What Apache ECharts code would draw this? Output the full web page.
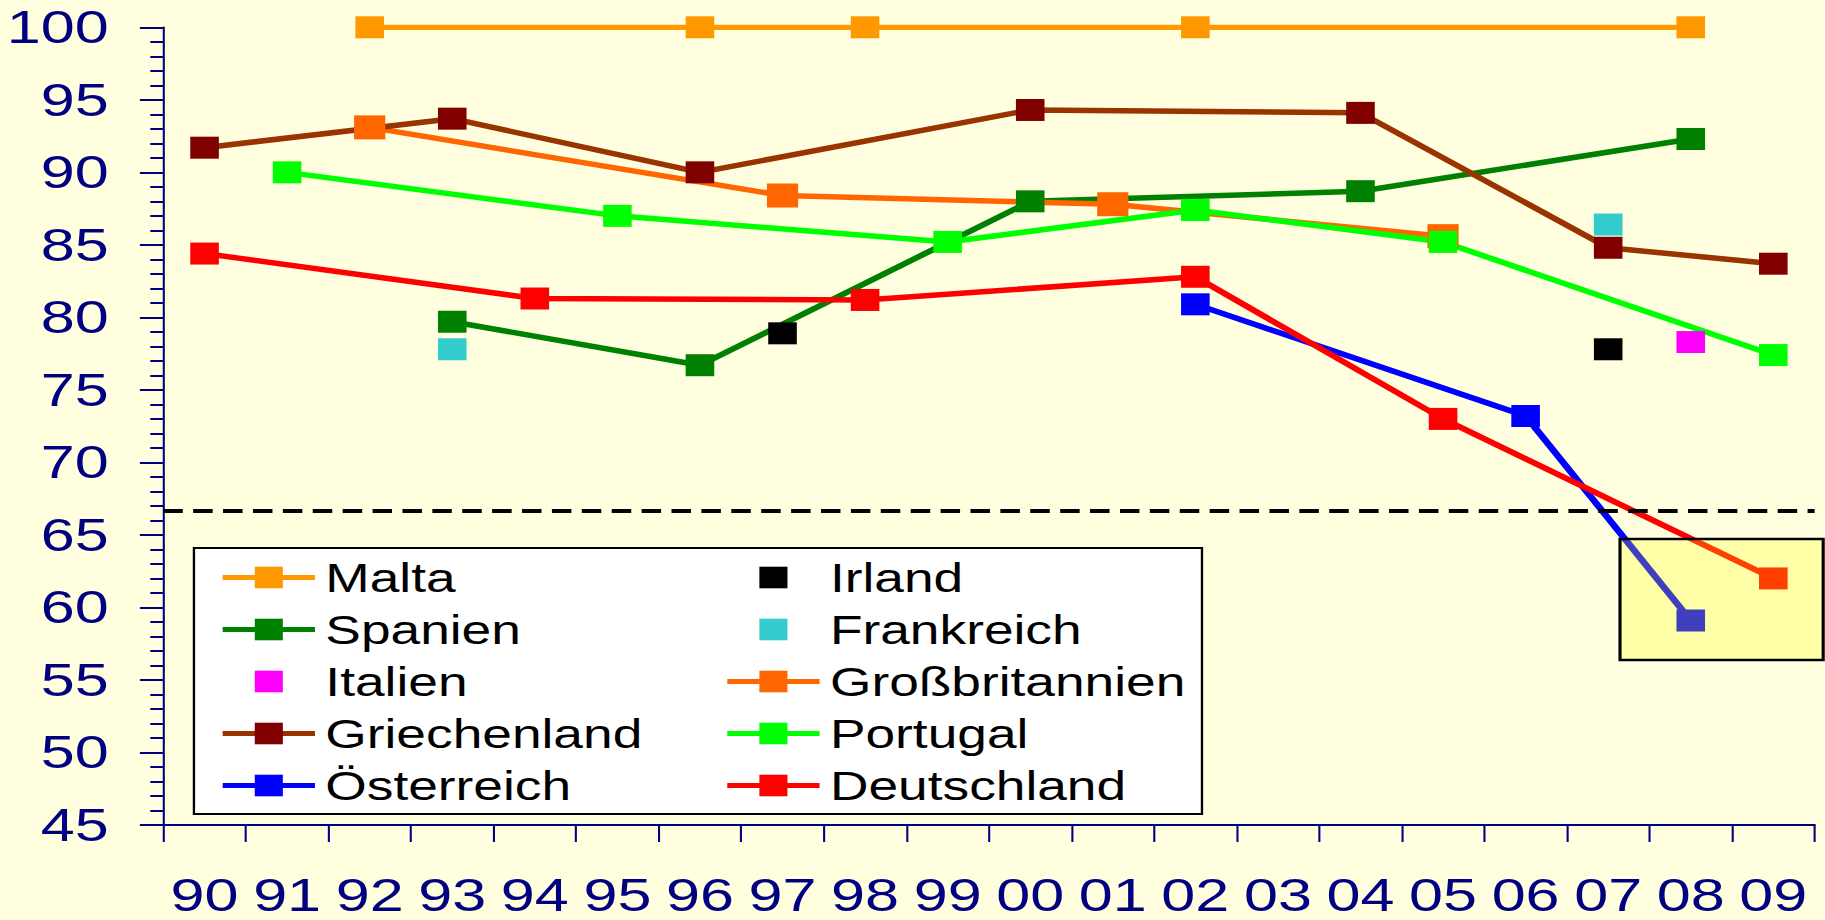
<!DOCTYPE html>
<html>
<head>
<meta charset="utf-8">
<script src="https://cdn.jsdelivr.net/npm/echarts@6/dist/echarts.min.js"></script>
<style>
html,body{margin:0;padding:0;background:#FFFFE0;overflow:hidden;width:1825px;height:920px}
#wrap{width:1404px;height:920px;transform:scaleX(1.29986);transform-origin:0 0;}
</style>
</head>
<body>
<div id="wrap"></div>
<script>
const n = null;
const years = ['90','91','92','93','94','95','96','97','98','99','00','01','02','03','04','05','06','07','08','09'];
const malta        = [n, n, 100, n, n, n, 100, n, 100, n, n, n, 100, n, n, n, n, n, 100, n];
const irland       = [n, n, n, n, n, n, n, 78.9, n, n, n, n, n, n, n, n, n, 77.8, n, n];
const spanien      = [n, n, n, 79.7, n, n, 76.7, n, n, n, 88.0, n, n, n, 88.7, n, n, n, 92.3, n];
const frankreich   = [n, n, n, 77.8, n, n, n, n, n, n, n, n, n, n, n, n, n, 86.4, n, n];
const italien      = [n, n, n, n, n, n, n, n, n, n, n, n, n, n, n, n, n, n, 78.3, n];
const grossbritannien = [n, n, 93.1, n, n, n, n, 88.4, n, n, n, 87.8, n, n, n, 85.6, n, n, n, n];
const griechenland = [91.7, n, n, 93.7, n, n, 90.0, n, n, n, 94.3, n, n, n, 94.1, n, n, 84.8, n, 83.7];
const portugal     = [n, 90.0, n, n, n, 87.0, n, n, n, 85.2, n, n, 87.4, n, n, 85.2, n, n, n, 77.4];
const oesterreich  = [n, n, n, n, n, n, n, n, n, n, n, n, 80.9, n, n, n, 73.2, n, 59.1, n];
const deutschland  = [84.4, n, n, n, 81.3, n, n, n, 81.2, n, n, n, 82.8, n, n, 73.0, n, n, n, 62.0];
const majority = 66.67;

const FONT = "'Liberation Sans', Arial, sans-serif";
const NAVY = '#000080';

function lineSeries(name, data, lineColor, markerColor, size) {
  return {
    name: name, type: 'line', data: data,
    symbol: 'rect', symbolSize: size || 22, showAllSymbol: true,
    connectNulls: true,
    lineStyle: { color: lineColor, width: 5.5 },
    itemStyle: { color: markerColor || lineColor },
    emphasis: { disabled: true },
    animation: false
  };
}
function pointSeries(name, data, color) {
  return {
    name: name, type: 'line', data: data,
    symbol: 'rect', symbolSize: 22, showAllSymbol: true,
    connectNulls: false,
    lineStyle: { color: color, width: 0, opacity: 0 },
    itemStyle: { color: color },
    emphasis: { disabled: true },
    animation: false
  };
}

const series = [
  lineSeries('Malta', malta, '#FF9900'),
  pointSeries('Irland', irland, '#000000'),
  lineSeries('Spanien', spanien, '#008000'),
  pointSeries('Frankreich', frankreich, '#33CCCC'),
  pointSeries('Italien', italien, '#FF00FF'),
  lineSeries('Großbritannien', grossbritannien, '#FF6600', '#FF6600', 24),
  lineSeries('Griechenland', griechenland, '#993300', '#800000'),
  lineSeries('Portugal', portugal, '#00FF00'),
  lineSeries('Österreich', oesterreich, '#0000FF'),
  lineSeries('Deutschland', deutschland, '#FF0000')
];
series[0].markLine = {
  silent: true, symbol: ['none', 'none'], animation: false,
  label: { show: false },
  lineStyle: { color: '#000000', type: [15, 8], width: 4 },
  data: [{ yAxis: majority }]
};

const legendCommon = {
  orient: 'vertical', top: 557, padding: 0,
  itemWidth: 71, itemHeight: 27, itemGap: 11,
  selectedMode: false,
  lineStyle: { width: 5 },
  textStyle: { fontFamily: FONT, fontSize: 41, color: '#000000', padding: [0, 0, 0, 3] }
};

const chart = echarts.init(document.getElementById('wrap'), null, { renderer: 'svg' });
chart.setOption({
  backgroundColor: '#FFFFE0',
  animation: false,
  grid: { left: 125.6, right: 8, top: 27.3, bottom: 95, containLabel: false },
  xAxis: {
    type: 'category', data: years, boundaryGap: true,
    axisLine: { lineStyle: { color: NAVY, width: 2 } },
    axisTick: { show: true, interval: 0, length: 17, lineStyle: { color: NAVY, width: 1.6 } },
    axisLabel: { interval: 0, margin: 52, color: NAVY, fontFamily: FONT, fontSize: 47, lineHeight: 36 },
    splitLine: { show: false }
  },
  yAxis: {
    type: 'value', min: 45, max: 100, interval: 5,
    axisLine: { show: true, lineStyle: { color: NAVY, width: 1.6 } },
    axisTick: { show: true, length: 18, lineStyle: { color: NAVY, width: 2 } },
    minorTick: { show: true, splitNumber: 5, length: 10, lineStyle: { color: NAVY, width: 2 } },
    axisLabel: { margin: 42, color: NAVY, fontFamily: FONT, fontSize: 47 },
    splitLine: { show: false }
  },
  legend: [
    Object.assign({}, legendCommon, { left: 168.8, data: ['Malta', 'Spanien', 'Italien', 'Griechenland', 'Österreich'] }),
    Object.assign({}, legendCommon, { left: 557, data: ['Irland', 'Frankreich', 'Großbritannien', 'Portugal', 'Deutschland'] })
  ],
  graphic: [
    { type: 'rect', z: 3, silent: true,
      shape: { x: 149.2, y: 548, width: 775.5, height: 266 },
      style: { fill: '#FFFFFF', stroke: '#000000', lineWidth: 1.8 } },
    { type: 'rect', z: 10, silent: true,
      shape: { x: 1246.3, y: 539, width: 156.3, height: 121 },
      style: { fill: 'rgba(255,255,0,0.25)', stroke: '#000000', lineWidth: 2.4 } }
  ],
  series: series
});
</script>
</body>
</html>
